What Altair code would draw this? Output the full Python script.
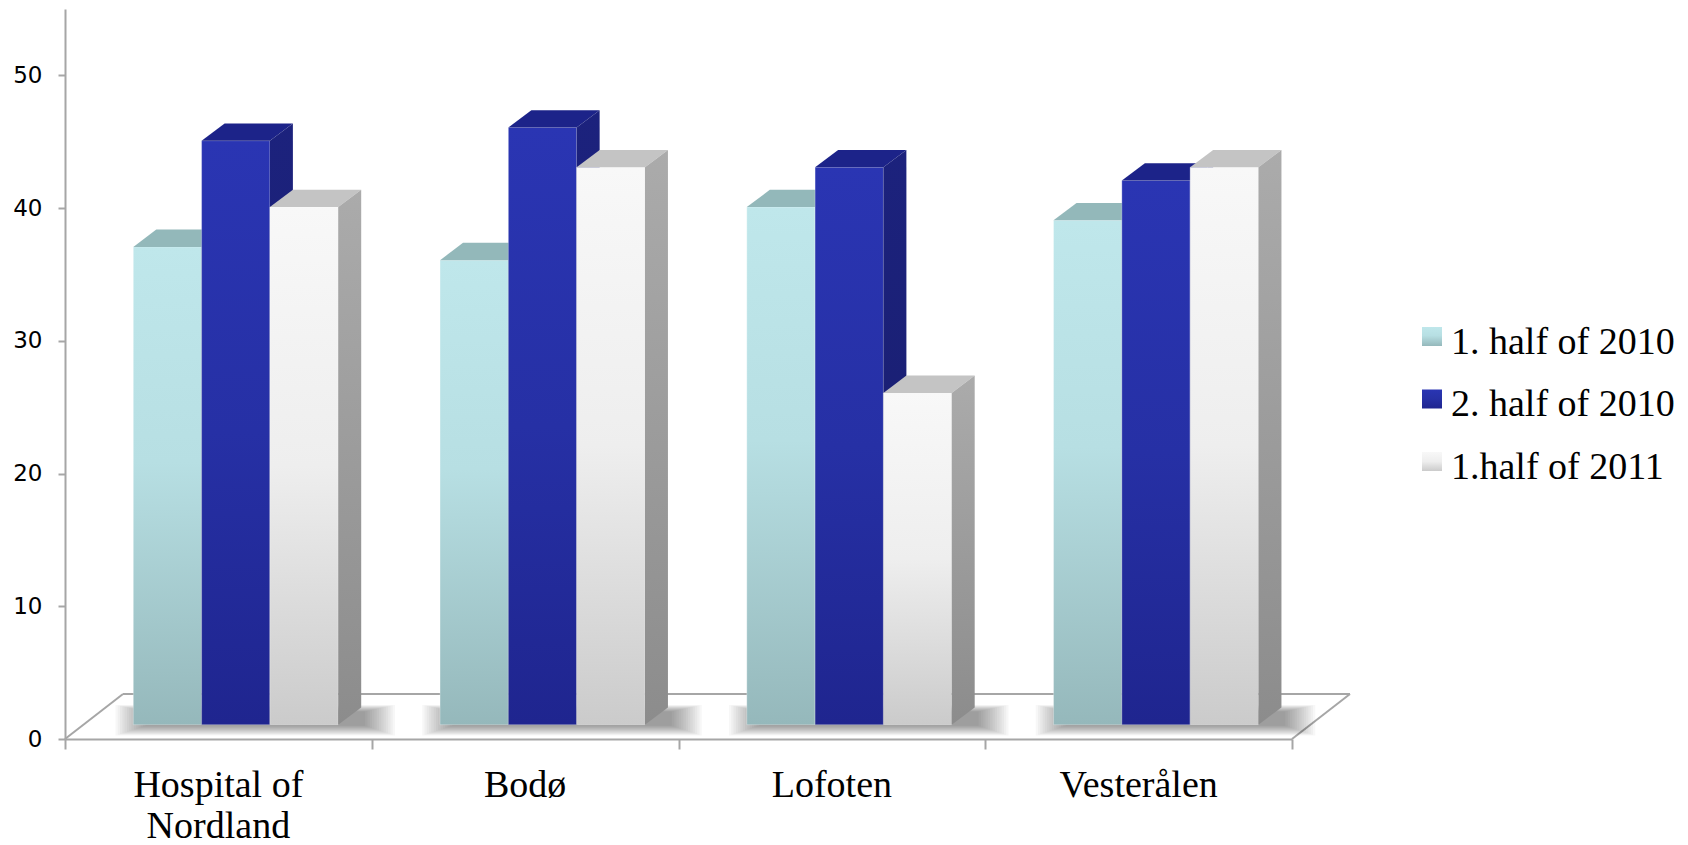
import altair as alt
import pandas as pd

# ---- data ----
categories = ["Hospital of\nNordland", "Bodø", "Lofoten", "Vesterålen"]
series = ["1. half of 2010", "2. half of 2010", "1.half of 2011"]
first_half_2010 = [36, 35, 39, 38]
second_half_2010 = [44, 45, 42, 41]
first_half_2011 = [39, 42, 25, 42]
series_values = [first_half_2010, second_half_2010, first_half_2011]
y_ticks = [0, 10, 20, 30, 40, 50]

# ---- layout (pixels) ----
W, H = 1227, 730
PAD = {"left": 65, "top": 9, "right": 1688 - 65 - 1227, "bottom": 845 - 9 - 730}
Y_MAX = 55
N = len(categories)
X_PX = W / N
Y_PX = H / Y_MAX

BAR_W = 68.3 / X_PX          # width of a bar's front face
BAR_START = 68.3 / X_PX      # gap from category boundary to first bar
BASE = 14.3 / Y_PX           # bar fronts stand back from the axis plane
DEPTH_X = 23.0 / X_PX        # oblique depth of each bar
DEPTH_Y = 17.3 / Y_PX
FLOOR_X = 58.0 / X_PX        # oblique depth of the floor
FLOOR_Y = 45.0 / Y_PX

LINE = "#A6A6A6"

# ---- styles per series ----
front_stops = [
    [("#BFE7EB", 0), ("#B7DFE3", 0.45), ("#95B8BB", 1)],
    [("#2A35B3", 0), ("#2630A5", 0.5), ("#1F258F", 1)],
    [("#F8F8F8", 0), ("#EEEEEE", 0.5), ("#CBCBCB", 1)],
]
top_colors = ["#93B8BA", "#1C2389", "#C4C4C4"]
side_stops = [
    [("#8DB0B3", 0), ("#7C9C9F", 1)],
    [("#1C227D", 0), ("#181D6B", 1)],
    [("#ABABAB", 0), ("#8C8C8C", 1)],
]


def vgrad(stops):
    return alt.LinearGradient(
        gradient="linear", x1=0, y1=0, x2=0, y2=1,
        stops=[alt.GradientStop(color=c, offset=o) for c, o in stops],
    )


xs = alt.Scale(domain=[0, N], nice=False, zero=False)
ys = alt.Scale(domain=[0, Y_MAX], nice=False, zero=True)
x_axis = alt.Axis(values=list(range(N + 1)), labels=False, tickSize=10, tickWidth=2,
                  tickColor=LINE, domainColor=LINE, domainWidth=2, grid=False, title=None)
y_axis = alt.Axis(values=y_ticks, tickSize=7, tickWidth=2, tickColor=LINE,
                  domainColor=LINE, domainWidth=2, grid=False, title=None,
                  labelFont="DejaVu Sans", labelFontSize=23, labelColor="#000000",
                  labelPadding=16)


def X(f):
    return alt.X(f, type="quantitative", scale=xs, axis=x_axis)


def Y(f):
    return alt.Y(f, type="quantitative", scale=ys, axis=y_axis)


# ---- geometry tables ----
front_rows, top_rows, side_rows = [], [], []
for s, vals in enumerate(series_values):
    for c, v in enumerate(vals):
        L = c + BAR_START + s * BAR_W
        R = L + BAR_W
        t = BASE + v
        bid = f"{s}-{c}"
        front_rows.append(dict(s=s, id=bid, L=L, R=R, b=BASE, t=t, value=v))
        top_rows += [
            dict(s=s, id=bid, y=t, xa=L, xb=R),
            dict(s=s, id=bid, y=t + DEPTH_Y, xa=L + DEPTH_X, xb=R + DEPTH_X),
        ]
        side_rows += [
            dict(s=s, id=bid, x=R, ya=t, yb=BASE),
            dict(s=s, id=bid, x=R + DEPTH_X, ya=t + DEPTH_Y, yb=BASE + DEPTH_Y),
        ]
front_df = pd.DataFrame(front_rows)
top_df = pd.DataFrame(top_rows)
side_df = pd.DataFrame(side_rows)

floor_df = pd.DataFrame([
    dict(x=0, x2=FLOOR_X, y=0, y2=FLOOR_Y),
    dict(x=FLOOR_X, x2=N + FLOOR_X, y=FLOOR_Y, y2=FLOOR_Y),
    dict(x=N, x2=N + FLOOR_X, y=0, y2=FLOOR_Y),
])

# soft floor shadow: stacked translucent footprints, each a little wider
shadow_rows = []
for c in range(N):
    left = c + BAR_START + 12 / X_PX
    right = c + BAR_START + 3 * BAR_W + DEPTH_X + 4 / X_PX
    for k in range(14):
        shadow_rows.append(dict(
            x=left - 2.3 * k / X_PX, x2=right + 2.3 * k / X_PX,
            y=BASE - (1 + 0.75 * k) / Y_PX, y2=BASE + DEPTH_Y - 4 / Y_PX + 0.5 * k / Y_PX))
shadow_df = pd.DataFrame(shadow_rows)

label_df = pd.DataFrame({"cat": categories, "xc": [c + 0.5 for c in range(N)]})

layers = []

# floor outline
layers.append(
    alt.Chart(floor_df).mark_rule(color=LINE, strokeWidth=2).encode(
        x=X("x"), x2="x2", y=Y("y"), y2="y2")
)

layers.append(
    alt.Chart(shadow_df).mark_rect(color="#000000", opacity=0.032).encode(
        x=X("x"), x2="x2", y=Y("y"), y2="y2")
)

# bars: front, top and side faces, drawn left to right
for s in range(len(series)):
    layers.append(
        alt.Chart(front_df[front_df.s == s]).mark_rect(
            color=vgrad(front_stops[s]), stroke="#FFFFFF", strokeOpacity=0.35, strokeWidth=0.8
        ).encode(x=X("L"), x2="R", y=Y("b"), y2="t")
    )
    layers.append(
        alt.Chart(top_df[top_df.s == s]).mark_area(
            orient="horizontal", color=top_colors[s]
        ).encode(y=Y("y"), x=X("xa"), x2="xb", detail="id:N")
    )
    layers.append(
        alt.Chart(side_df[side_df.s == s]).mark_area(
            orient="vertical", color=vgrad(side_stops[s])
        ).encode(x=X("x"), y=Y("ya"), y2="yb", detail="id:N")
    )

# category labels
layers.append(
    alt.Chart(label_df).mark_text(
        font="Liberation Serif", fontSize=38, lineBreak="\n", lineHeight=41,
        align="center", baseline="alphabetic", color="#000000"
    ).encode(x=X("xc"), y=alt.value(788), text="cat:N")
)

# legend
LEG_X, LEG_Y, LEG_STEP = 1357, 318, 62.5
for s, name in enumerate(series):
    leg = alt.Chart(pd.DataFrame({"label": [name]}))
    layers.append(
        leg.mark_rect(color=vgrad(front_stops[s])).encode(
            x=alt.value(LEG_X), x2=alt.value(LEG_X + 20),
            y=alt.value(LEG_Y + s * LEG_STEP), y2=alt.value(LEG_Y + s * LEG_STEP + 19))
    )
    layers.append(
        leg.mark_text(font="Liberation Serif", fontSize=38, align="left",
                      baseline="alphabetic", color="#000000").encode(
            x=alt.value(LEG_X + 29), y=alt.value(LEG_Y + 26.5 + s * LEG_STEP),
            text="label:N")
    )

chart = alt.layer(*layers).properties(
    width=W, height=H, autosize="none", padding=PAD, background="white"
).configure_view(stroke=None)

chart.save("out.html", embed_options={"renderer": "svg", "actions": False})
